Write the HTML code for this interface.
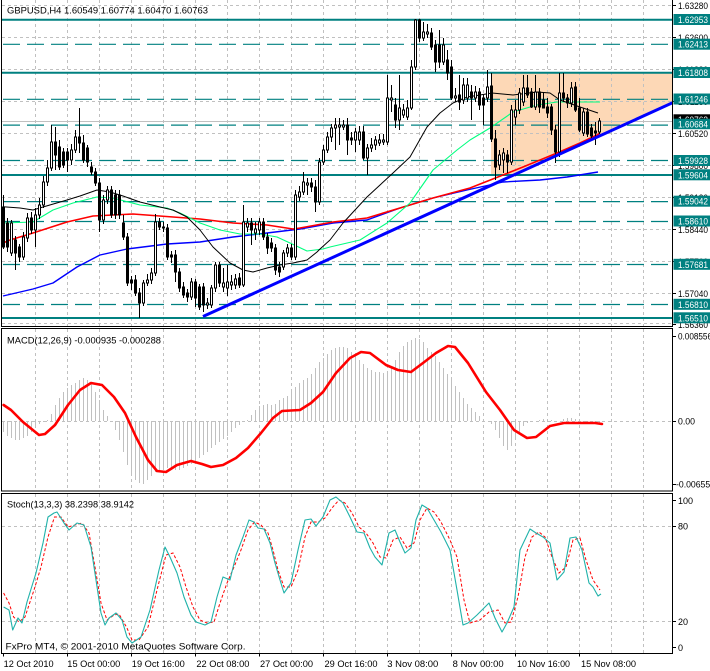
<!DOCTYPE html>
<html><head><meta charset="utf-8"><style>
html,body{margin:0;padding:0;background:#fff;}
svg{display:block;}
text{font-family:"Liberation Sans",sans-serif;font-size:9px;fill:#000;}
.w{fill:#fff;}
</style></head><body>
<svg width="710" height="671" viewBox="0 0 710 671" xmlns="http://www.w3.org/2000/svg">
<defs>
<clipPath id="cm"><rect x="2" y="0" width="670.5" height="326"/></clipPath>
<clipPath id="cd"><rect x="2" y="329" width="670.5" height="162"/></clipPath>
<clipPath id="cs"><rect x="2" y="494" width="670.5" height="159"/></clipPath>
</defs>
<rect width="710" height="671" fill="#fff"/>
<g clip-path="url(#cm)">
<polygon points="491,73.5 672.5,73.5 672.5,103 514,175 491,175" fill="#fdd8b6"/>
<g stroke="#c0c0c0" stroke-width="1" stroke-dasharray="3 3" fill="none">
<path d="M35.5 0V326M67.5 0V326M99.5 0V326M131.5 0V326M163.5 0V326M195.5 0V326M227.5 0V326M259.5 0V326M291.5 0V326M323.5 0V326M355.5 0V326M387.5 0V326M419.5 0V326M451.5 0V326M483.5 0V326M515.5 0V326M547.5 0V326M579.5 0V326M611.5 0V326M643.5 0V326"/>
<path d="M2 5.5H672M2 37.5H672M2 69.5H672M2 101.5H672M2 133.5H672M2 165.5H672M2 197.5H672M2 229.5H672M2 261.5H672M2 293.5H672M2 323.5H672"/>
</g>
<path d="M2 121.5H672" stroke="#c0c0c0" stroke-width="1"/>
<g stroke="#008080" fill="none">
<path d="M2 19.7H672M2 72.7H672M2 175H672M2 318H672" stroke-width="2"/>
<path d="M3 44.3H672M3 99.3H672M3 125.1H672M3 160.5H672M3 201.6H672M3 221.5H672M3 264.5H672M3 304.5H672" stroke-width="1.2" stroke-dasharray="17 7"/>
</g>
<g fill="none" stroke-linejoin="round">
<polyline stroke="#0000ff" stroke-width="1.4" points="3,296 33,289 53,283 77,267 100,255 127,249 167,244 200,242 233,237 267,233 300,229 333,223 367,220 400,208 433,198 467,190 503,182 540,180 567,177 598,172"/>
<polyline stroke="#ff0000" stroke-width="1.6" points="3,243 10,240 33,233 67,222 93,216 133,214 173,217 200,219 233,223 267,225 293,229 300,228 333,222 367,218 400,208 433,198 470,188 503,175 523,167 557,153 580,143 597,135 600,133"/>
<polyline stroke="#00ff7f" stroke-width="1.1" points="3,223 33,222 53,210 73,203 97,197 113,198 140,205 167,208 180,213 200,223 220,230 240,234 260,234 277,237 290,243 307,251 323,249 330,247 360,240 387,223 410,203 433,170 457,150 470,140 490,128 513,112 537,105 557,102 600,102"/>
<polyline stroke="#000" stroke-width="1" points="3,206.7 20,208 33,210 43,207 67,200 80,196 97,190 110,192 123,196 140,202 160,207 173,210 187,217 200,230 213,247 230,263 243,270 253,272 267,268 280,265 293,263 307,260 317,252 320,249 330,240 343,223 367,197 393,173 410,157 427,127 440,113 453,103 467,97 480,95 492,93 513,95 537,92 550,93 560,100 580,107 598,113"/>
</g>
<path stroke="#000" stroke-width="1" fill="none" d="M3.5 195V249M7.5 218V252M11.5 220V256M15.5 236V270M19.5 244V262M23.5 232V260M27.5 213V242M31.5 212V234M35.5 208V247M39.5 198V219M43.5 176V208M47.5 160V186M51.5 125V171M55.5 127V170M59.5 140V170M63.5 148V168M67.5 148V172M71.5 144V165M75.5 130V153M79.5 108V153M83.5 135V163M87.5 145V167M91.5 162V175M95.5 168V186M99.5 178V232M103.5 195V224M107.5 186V204M111.5 186V218M115.5 190V219M119.5 190V219M123.5 215V240M127.5 233V286M131.5 276V290M135.5 275V296M139.5 288V318M143.5 280V306M147.5 274V286M151.5 268V284M155.5 214V276M159.5 218V230M163.5 222V232M167.5 224V260M171.5 251V263M175.5 250V282M179.5 268V292M183.5 282V298M187.5 289V302M191.5 278V300M195.5 279V307M199.5 284V310M203.5 283V312M207.5 298V309M211.5 285V308M215.5 262V292M219.5 262V287M223.5 268V292M227.5 265V296M231.5 275V290M235.5 274V289M239.5 273V288M243.5 205V287M247.5 218V232M251.5 218V245M255.5 222V240M259.5 218V235M263.5 218V240M267.5 233V254M271.5 238V252M275.5 244V275M279.5 262V277M283.5 250V270M287.5 244V257M291.5 244V260M295.5 190V260M299.5 186V201M303.5 172V195M307.5 178V195M311.5 178V192M315.5 180V212M319.5 158V205M323.5 145V165M327.5 132V153M331.5 124V142M335.5 118V150M339.5 118V145M343.5 120V130M347.5 118V155M351.5 132V145M355.5 128V152M359.5 126V145M363.5 126V160M367.5 144V175M371.5 138V152M375.5 136V150M379.5 134V146M383.5 134V145M387.5 75V145M391.5 85V112M395.5 98V128M399.5 75V130M403.5 104V118M407.5 100V120M411.5 60V110M415.5 19V70M419.5 19V42M423.5 22V41M427.5 24V38M431.5 28V50M435.5 40V72M439.5 30V68M443.5 38V65M447.5 50V80M451.5 60V100M455.5 88V102M459.5 75V110M463.5 78V104M467.5 78V102M471.5 85V120M475.5 86V102M479.5 88V110M483.5 94V125M487.5 70V102M491.5 73V142M495.5 130V180M499.5 150V170M503.5 148V173M507.5 150V173M511.5 105V165M515.5 100V125M519.5 88V114M523.5 75V106M527.5 75V98M531.5 88V108M535.5 75V110M539.5 88V113M543.5 92V108M547.5 98V118M551.5 104V135M555.5 125V163M559.5 73V157M563.5 73V102M567.5 94V108M571.5 82V107M575.5 82V112M579.5 98V132M583.5 108V136M587.5 108V137M591.5 124V138M595.5 122V145M599.5 118V134"/>
<path stroke="#000" stroke-width="1" fill="#000" d="M2.5 207h2v40h-2zM6.5 223h2v24h-2zM14.5 240h2v13h-2zM18.5 247h2v10h-2zM30.5 218h2v12h-2zM54.5 142h2v13h-2zM58.5 147h2v20h-2zM62.5 152h2v13h-2zM66.5 152h2v8h-2zM78.5 137h2v6h-2zM82.5 143h2v17h-2zM86.5 148h2v14h-2zM90.5 167h2v5h-2zM94.5 172h2v11h-2zM98.5 183h2v37h-2zM110.5 190h2v25h-2zM114.5 195h2v20h-2zM118.5 195h2v20h-2zM122.5 223h2v14h-2zM126.5 237h2v46h-2zM130.5 280h2v3h-2zM134.5 280h2v13h-2zM138.5 293h2v10h-2zM158.5 222h2v5h-2zM162.5 227h2v1h-2zM166.5 228h2v29h-2zM170.5 255h2v2h-2zM174.5 255h2v17h-2zM178.5 272h2v16h-2zM182.5 287h2v8h-2zM186.5 293h2v4h-2zM194.5 282h2v16h-2zM198.5 287h2v20h-2zM202.5 287h2v18h-2zM218.5 265h2v18h-2zM238.5 278h2v7h-2zM250.5 223h2v7h-2zM262.5 222h2v15h-2zM266.5 237h2v11h-2zM270.5 243h2v5h-2zM274.5 248h2v22h-2zM278.5 267h2v5h-2zM290.5 248h2v9h-2zM310.5 183h2v4h-2zM314.5 187h2v15h-2zM346.5 125h2v15h-2zM350.5 138h2v2h-2zM362.5 132h2v26h-2zM394.5 105h2v15h-2zM418.5 20h2v18h-2zM430.5 33h2v14h-2zM434.5 45h2v17h-2zM438.5 45h2v17h-2zM446.5 60h2v13h-2zM450.5 67h2v31h-2zM458.5 95h2v7h-2zM470.5 92h2v6h-2zM478.5 92h2v13h-2zM482.5 98h2v7h-2zM490.5 86h2v53h-2zM494.5 139h2v28h-2zM506.5 155h2v7h-2zM526.5 88h2v7h-2zM530.5 92h2v15h-2zM538.5 92h2v15h-2zM542.5 100h2v8h-2zM546.5 107h2v6h-2zM550.5 107h2v23h-2zM554.5 130h2v22h-2zM562.5 93h2v5h-2zM566.5 98h2v5h-2zM574.5 87h2v23h-2zM578.5 108h2v22h-2zM586.5 112h2v22h-2zM590.5 128h2v8h-2zM594.5 131h2v2h-2z"/>
<path stroke="#000" stroke-width="1" fill="#fff" d="M10.5 223h2v30h-2zM22.5 237h2v20h-2zM26.5 218h2v20h-2zM34.5 215h2v15h-2zM38.5 205h2v10h-2zM42.5 182h2v23h-2zM46.5 168h2v14h-2zM50.5 142h2v26h-2zM70.5 150h2v10h-2zM74.5 137h2v13h-2zM102.5 200h2v20h-2zM106.5 190h2v10h-2zM142.5 283h2v20h-2zM146.5 280h2v3h-2zM150.5 273h2v7h-2zM154.5 222h2v51h-2zM190.5 282h2v15h-2zM206.5 303h2v2h-2zM210.5 288h2v17h-2zM214.5 265h2v23h-2zM222.5 283h2v4h-2zM226.5 282h2v6h-2zM230.5 282h2v3h-2zM234.5 279h2v6h-2zM242.5 222h2v63h-2zM246.5 223h2v4h-2zM254.5 229h2v4h-2zM258.5 222h2v8h-2zM282.5 253h2v14h-2zM286.5 248h2v5h-2zM294.5 195h2v62h-2zM298.5 192h2v5h-2zM302.5 182h2v10h-2zM306.5 183h2v2h-2zM318.5 162h2v40h-2zM322.5 150h2v12h-2zM326.5 137h2v13h-2zM330.5 128h2v9h-2zM334.5 125h2v3h-2zM338.5 125h2v2h-2zM342.5 125h2v2h-2zM354.5 132h2v8h-2zM358.5 132h2v8h-2zM366.5 148h2v10h-2zM370.5 145h2v3h-2zM374.5 140h2v5h-2zM378.5 140h2v3h-2zM382.5 140h2v2h-2zM386.5 98h2v44h-2zM390.5 98h2v2h-2zM398.5 108h2v12h-2zM402.5 110h2v5h-2zM406.5 108h2v9h-2zM410.5 67h2v41h-2zM414.5 20h2v47h-2zM422.5 32h2v6h-2zM426.5 32h2v2h-2zM442.5 45h2v17h-2zM454.5 96h2v2h-2zM462.5 85h2v15h-2zM466.5 85h2v13h-2zM474.5 92h2v6h-2zM486.5 87h2v11h-2zM498.5 155h2v10h-2zM502.5 153h2v7h-2zM510.5 110h2v52h-2zM514.5 110h2v7h-2zM518.5 93h2v17h-2zM522.5 88h2v14h-2zM534.5 92h2v15h-2zM558.5 93h2v59h-2zM570.5 88h2v15h-2zM582.5 112h2v21h-2zM598.5 121h2v11h-2z"/>
<line x1="203" y1="316.5" x2="675" y2="101.6" stroke="#0000ff" stroke-width="3"/>
</g>
<text x="7" y="13.5" font-size="10" textLength="201" lengthAdjust="spacingAndGlyphs">GBPUSD,H4  1.60549 1.60774 1.60470 1.60763</text>
<!-- MACD panel -->
<g clip-path="url(#cd)">
<g stroke="#c0c0c0" stroke-width="1" stroke-dasharray="3 3" fill="none">
<path d="M35.5 329V491M67.5 329V491M99.5 329V491M131.5 329V491M163.5 329V491M195.5 329V491M227.5 329V491M259.5 329V491M291.5 329V491M323.5 329V491M355.5 329V491M387.5 329V491M419.5 329V491M451.5 329V491M483.5 329V491M515.5 329V491M547.5 329V491M579.5 329V491M611.5 329V491M643.5 329V491"/>
<path d="M2 421.5H672"/>
</g>
<path stroke="#c0c0c0" stroke-width="1" fill="none" d="M3.5 421V432M7.5 421V436M11.5 421V438M15.5 421V440M19.5 421V440M23.5 421V438M27.5 421V436M31.5 421V432M35.5 421V428M39.5 421V424M43.5 421V422M47.5 421V420M51.5 421V414M55.5 421V405M59.5 421V398M63.5 421V392M67.5 421V388M71.5 421V385M75.5 421V383M79.5 421V380M83.5 421V378M87.5 421V380M91.5 421V384M95.5 421V392M99.5 421V400M103.5 421V410M107.5 421V416M115.5 421V430M119.5 421V440M123.5 421V452M127.5 421V465M131.5 421V474M135.5 421V480M139.5 421V483M143.5 421V484M147.5 421V480M151.5 421V476M155.5 421V472M159.5 421V470M163.5 421V468M167.5 421V468M171.5 421V470M175.5 421V470M179.5 421V470M183.5 421V468M187.5 421V466M191.5 421V464M195.5 421V462M199.5 421V458M203.5 421V455M207.5 421V452M211.5 421V448M215.5 421V445M219.5 421V442M223.5 421V439M227.5 421V436M231.5 421V432M235.5 421V428M239.5 421V425M243.5 421V422M247.5 421V420M251.5 421V415M255.5 421V410M259.5 421V406M263.5 421V405M267.5 421V404M271.5 421V405M275.5 421V404M279.5 421V400M283.5 421V398M287.5 421V396M291.5 421V392M295.5 421V387M299.5 421V383M303.5 421V380M307.5 421V378M311.5 421V374M315.5 421V368M319.5 421V362M323.5 421V358M327.5 421V354M331.5 421V350M335.5 421V348M339.5 421V347M343.5 421V347M347.5 421V348M351.5 421V352M355.5 421V356M359.5 421V360M363.5 421V364M367.5 421V368M371.5 421V370M375.5 421V372M379.5 421V372M383.5 421V373M387.5 421V372M391.5 421V368M395.5 421V360M399.5 421V352M403.5 421V346M407.5 421V342M411.5 421V340M415.5 421V338M419.5 421V339M423.5 421V342M427.5 421V348M431.5 421V352M435.5 421V356M439.5 421V362M443.5 421V368M447.5 421V374M451.5 421V380M455.5 421V386M459.5 421V392M463.5 421V398M467.5 421V404M471.5 421V408M475.5 421V412M479.5 421V416M483.5 421V419M491.5 421V424M495.5 421V430M499.5 421V438M503.5 421V446M507.5 421V450M511.5 421V446M515.5 421V440M519.5 421V432M523.5 421V426M527.5 421V423M531.5 421V422M539.5 421V420M543.5 421V419M547.5 421V419M551.5 421V420M555.5 421V422M563.5 421V419M567.5 421V418M571.5 421V418M575.5 421V419M583.5 421V422M587.5 421V423M591.5 421V424M595.5 421V424M599.5 421V424"/>
<polyline fill="none" stroke="#ff0000" stroke-width="2.6" stroke-linejoin="round" stroke-linecap="round" points="3.6,405 11,410 23,422 39,435 45,434 55,425 68,405 80,390 91,383 102,385 114,397 125,413 136,437 148,460 157,471 166,472 177,465 191,461 202,464 211,467 223,465 236,458 248,448 261,433 273,418 282,411 300,410 311,403 323,392 336,373 350,358 361,352 370,353 386,365 398,370 411,372 423,363 436,353 448,346 455,347 468,363 486,392 500,410 514,430 527,438 536,437 550,426 564,423 577,423 595,423 602,424"/>
</g>
<text x="7" y="343.5" font-size="10" textLength="154" lengthAdjust="spacingAndGlyphs">MACD(12,26,9) -0.000935 -0.000288</text>
<!-- Stoch panel -->
<g clip-path="url(#cs)">
<g stroke="#c0c0c0" stroke-width="1" stroke-dasharray="3 3" fill="none">
<path d="M35.5 494V653M67.5 494V653M99.5 494V653M131.5 494V653M163.5 494V653M195.5 494V653M227.5 494V653M259.5 494V653M291.5 494V653M323.5 494V653M355.5 494V653M387.5 494V653M419.5 494V653M451.5 494V653M483.5 494V653M515.5 494V653M547.5 494V653M579.5 494V653M611.5 494V653M643.5 494V653"/>
<path d="M2 526.5H672M2 621.5H672"/>
</g>
<polyline fill="none" stroke="#ff0000" stroke-width="1" stroke-dasharray="3 2" points="3.6,593 9,603 13.6,617 19,622 25,617 34,590 41,567 48,537 54.5,517 61,517 68,527 75,525 82,523 89,533 95,567 101,603 107,620 114,615 119,614 127,628 132,640 139,640 148,627 157,590 166,555 173,553 180,567 186,587 193,607 200,620 207,623 214,622 220,603 227,583 234,567 241,550 248,530 254.5,522 261,525 268,533 273,550 278,570 284,587 291,587 298,570 305,537 311,522 318,522 325,518 332,508 339,500 345,503 352,513 359,527 366,533 373,543 380,557 386,558 393,540 400,537 407,548 414,543 420,520 427,508 434,512 441,522 450,540 457,557 464,600 470,623 480,620 489,612 498,610 505,623 511,622 518,597 525,557 532,537 539,532 545,537 552,557 559,573 566,567 573,540 580,538 586,560 593,580 600,590"/>
<polyline fill="none" stroke="#20b2aa" stroke-width="1.1" stroke-linejoin="round" points="3.6,607 9,610 12.7,630 18,618 22,623 27,602 36,573 43,543 48,517 54,513 57,512 64,523 69,530 77,523 84,525 91,547 96,580 101,613 105,625 109,618 116,613 122,620 127,637 132,643 141,637 150,610 159,570 165,547 170,557 177,573 184,597 191,615 196,622 205,625 211,622 217,597 223,577 230,580 236,555 243,537 249,520 254,522 258,528 264,529 270,543 275,563 280,580 284,593 291,583 298,550 305,520 311,519 316,526 323,517 330,500 336,497 343,503 350,517 357,532 364,533 370,548 375,557 382,565 389,533 395,530 400,542 405,553 411,548 416,520 422,505 427,508 434,520 441,532 450,550 457,590 463,625 468,623 477,615 489,603 495,618 502,632 507,623 514,607 520,550 530,529 536,533 543,537 550,543 557,580 564,572 570,538 576,537 582,550 589,583 593,587 598,596 601,594"/>
</g>
<text x="7" y="507.5" font-size="10" textLength="127" lengthAdjust="spacingAndGlyphs">Stoch(13,3,3) 38.2398 38.9142</text>
<text x="5.5" y="649.5" font-size="10" textLength="240" lengthAdjust="spacingAndGlyphs">FxPro MT4, © 2001-2010 MetaQuotes Software Corp.</text>
<!-- frames -->
<g stroke="#000" stroke-width="1" fill="none">
<path d="M1.5 0V326.5H672.5V0"/>
<rect x="1.5" y="328.5" width="671" height="162.5"/>
<rect x="1.5" y="493.5" width="671" height="160"/>
<path d="M672.5 5.5h3.5M672.5 37.5h3.5M672.5 69.5h3.5M672.5 101.5h3.5M672.5 133.5h3.5M672.5 165.5h3.5M672.5 197.5h3.5M672.5 229.5h3.5M672.5 261.5h3.5M672.5 293.5h3.5M672.5 324.5h3.5"/>
<path d="M672.5 336.5h3.5M672.5 421.5h3.5M672.5 484.5h3.5M672.5 500.5h3.5M672.5 526.5h3.5M672.5 621.5h3.5M672.5 647.5h3.5"/>
<path d="M3.5 653.5v3M67.5 653.5v3M131.5 653.5v3M195.5 653.5v3M259.5 653.5v3M323.5 653.5v3M387.5 653.5v3M451.5 653.5v3M515.5 653.5v3M579.5 653.5v3"/>
</g>
<!-- price axis labels -->
<g>
<text x="678" y="9" textLength="30" lengthAdjust="spacingAndGlyphs">1.63280</text>
<text x="678" y="41" textLength="30" lengthAdjust="spacingAndGlyphs">1.62600</text>
<text x="678" y="73" textLength="30" lengthAdjust="spacingAndGlyphs">1.61880</text>
<text x="678" y="105" textLength="30" lengthAdjust="spacingAndGlyphs">1.61160</text>
<text x="678" y="137" textLength="30" lengthAdjust="spacingAndGlyphs">1.60520</text>
<text x="678" y="169" textLength="30" lengthAdjust="spacingAndGlyphs">1.59800</text>
<text x="678" y="201" textLength="30" lengthAdjust="spacingAndGlyphs">1.59120</text>
<text x="678" y="233" textLength="30" lengthAdjust="spacingAndGlyphs">1.58440</text>
<text x="678" y="265" textLength="30" lengthAdjust="spacingAndGlyphs">1.57760</text>
<text x="678" y="297" textLength="30" lengthAdjust="spacingAndGlyphs">1.57040</text>
<text x="678" y="328" textLength="30" lengthAdjust="spacingAndGlyphs">1.56360</text>
</g>
<g>
<rect x="673.5" y="114.3" width="37" height="11" fill="#000"/>
<text class="w" x="678" y="123" textLength="30" lengthAdjust="spacingAndGlyphs">1.60763</text>
</g>
<g fill="#008080">
<rect x="673.5" y="14" width="37" height="11"/>
<rect x="673.5" y="38.7" width="37" height="11"/>
<rect x="673.5" y="67" width="37" height="11"/>
<rect x="673.5" y="93.5" width="37" height="11"/>
<rect x="673.5" y="118.7" width="37" height="10.5"/>
<rect x="673.5" y="155" width="37" height="11"/>
<rect x="673.5" y="169.3" width="37" height="11"/>
<rect x="673.5" y="195.7" width="37" height="11"/>
<rect x="673.5" y="215.5" width="37" height="11"/>
<rect x="673.5" y="258.8" width="37" height="11"/>
<rect x="673.5" y="298.8" width="37" height="11"/>
<rect x="673.5" y="312.3" width="37" height="11"/>
</g>
<g>
<text class="w" x="678" y="23" textLength="30" lengthAdjust="spacingAndGlyphs">1.62953</text>
<text class="w" x="678" y="47.7" textLength="30" lengthAdjust="spacingAndGlyphs">1.62413</text>
<text class="w" x="678" y="76" textLength="30" lengthAdjust="spacingAndGlyphs">1.61808</text>
<text class="w" x="678" y="102.5" textLength="30" lengthAdjust="spacingAndGlyphs">1.61246</text>
<text class="w" x="678" y="127.5" textLength="30" lengthAdjust="spacingAndGlyphs">1.60684</text>
<text class="w" x="678" y="164" textLength="30" lengthAdjust="spacingAndGlyphs">1.59928</text>
<text class="w" x="678" y="178.3" textLength="30" lengthAdjust="spacingAndGlyphs">1.59604</text>
<text class="w" x="678" y="204.7" textLength="30" lengthAdjust="spacingAndGlyphs">1.59042</text>
<text class="w" x="678" y="224.5" textLength="30" lengthAdjust="spacingAndGlyphs">1.58610</text>
<text class="w" x="678" y="267.8" textLength="30" lengthAdjust="spacingAndGlyphs">1.57681</text>
<text class="w" x="678" y="307.8" textLength="30" lengthAdjust="spacingAndGlyphs">1.56810</text>
<text class="w" x="678" y="321.3" textLength="30" lengthAdjust="spacingAndGlyphs">1.56510</text>
</g>
<text x="678" y="339.5" textLength="34" lengthAdjust="spacingAndGlyphs">0.008556</text>
<text x="678" y="424.5" textLength="17" lengthAdjust="spacingAndGlyphs">0.00</text>
<text x="676" y="487.5" textLength="39" lengthAdjust="spacingAndGlyphs">-0.006558</text>
<text x="678" y="504">100</text>
<text x="678" y="529.5">80</text>
<text x="678" y="625">20</text>
<text x="678" y="651">0</text>
<!-- time labels -->
<g font-size="9.5">
<text x="3.6" y="667" textLength="50" lengthAdjust="spacingAndGlyphs">12 Oct 2010</text>
<text x="67.3" y="667" textLength="53" lengthAdjust="spacingAndGlyphs">15 Oct 00:00</text>
<text x="131.8" y="667" textLength="53" lengthAdjust="spacingAndGlyphs">19 Oct 16:00</text>
<text x="196.4" y="667" textLength="53" lengthAdjust="spacingAndGlyphs">22 Oct 08:00</text>
<text x="260" y="667" textLength="53" lengthAdjust="spacingAndGlyphs">27 Oct 00:00</text>
<text x="324.5" y="667" textLength="53" lengthAdjust="spacingAndGlyphs">29 Oct 16:00</text>
<text x="387.3" y="667" textLength="51" lengthAdjust="spacingAndGlyphs">3 Nov 08:00</text>
<text x="452.7" y="667" textLength="51" lengthAdjust="spacingAndGlyphs">8 Nov 00:00</text>
<text x="517" y="667" textLength="53" lengthAdjust="spacingAndGlyphs">10 Nov 16:00</text>
<text x="581" y="667" textLength="55" lengthAdjust="spacingAndGlyphs">15 Nov 08:00</text>
</g>
</svg>
</body></html>
